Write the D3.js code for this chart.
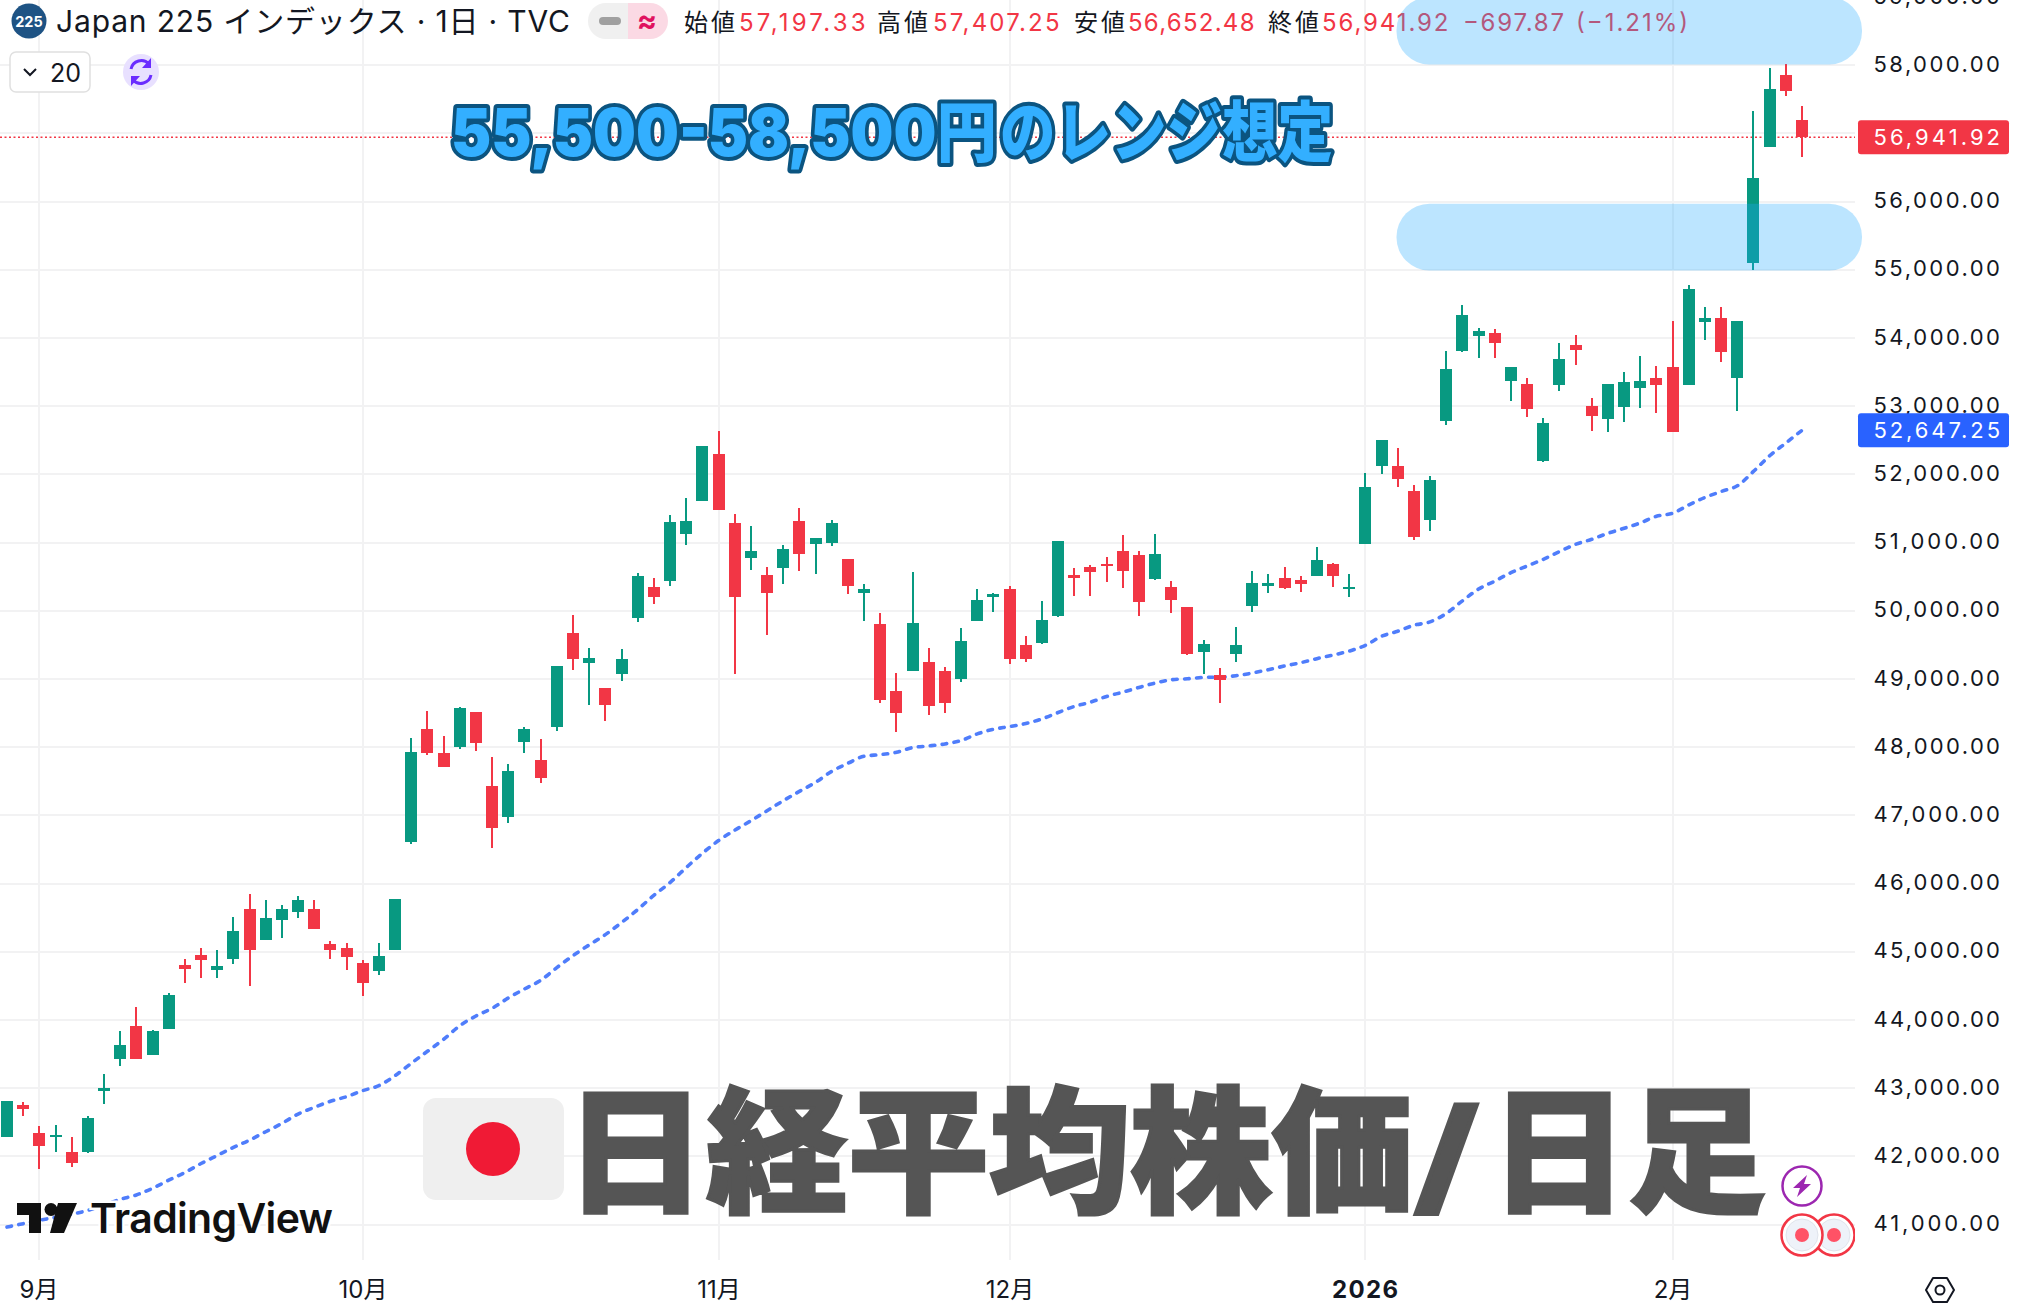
<!DOCTYPE html>
<html><head><meta charset="utf-8">
<style>html,body{margin:0;padding:0;background:#fff;overflow:hidden}svg{display:block}text{font-family:Inter,"Noto Sans CJK JP",sans-serif}</style>
<script src="https://cdn.jsdelivr.net/npm/d3@7/dist/d3.min.js"></script></head><body>
<script>
const opens=[42289,42760,42348,42289,42069,42069,42966,43436,43907,43495,43863,44804,44951,44730,44892,45627,45172,45466,45583,45627,45113,45054,44833,44716,45025,
46613,48275,47922,48010,48510,47436,46980,48083,47819,48304,49672,49230,48863,49069,49892,50348,50436,51127,51613,52304,51289,50775,50524,50627,51319,50980,50995,50760,50260,
49803,48818,49112,49245,49112,48995,49848,50200,50318,49495,49524,49921,50524,50642,50686,50877,50818,50465,50348,50053,49392,49054,49362,50068,50362,50480,50450,50509,50686,50318,
50980,52127,52127,51760,51333,52789,53804,54024,54069,53363,53333,52201,53304,53892,53010,52819,52995,53274,53421,53569,53304,54230,54289,53407,55103,56794,57853,57197.33];
const highs=[42819,42804,42451,42466,42289,42598,43216,43833,44186,43848,44392,44892,45054,45025,45510,45848,45760,45686,45819,45760,45157,45128,44878,45128,45775,
48142,48525,48172,48583,48510,47863,47760,48304,48127,49186,49936,49451,48863,49436,50554,50480,51407,51657,52422,52642,51422,51245,50642,50966,51510,51069,51333,50760,50392,
49965,49083,50568,49450,49171,49745,50318,50259,50362,49627,50142,51024,50627,50671,50789,51112,50877,51127,50436,50053,49568,49156,49759,50583,50539,50642,50509,50936,50700,50539,
52024,52510,52392,51848,51980,53804,54480,54142,54127,53569,53407,52833,53921,54039,53127,53319,53495,53730,53583,54245,54774,54451,54451,54245,57324,57956,58015,57407.25];
const lows=[42289,42598,41819,42069,41848,42054,42775,43333,43436,43495,43863,44539,44613,44613,44819,44495,45172,45201,45495,45333,44892,44730,44348,44657,45025,
46583,47892,47716,47980,47951,46524,46892,47922,47480,48245,49127,48613,48392,48966,49833,50098,50363,50966,51613,51480,49069,50598,49642,50392,50583,50539,50951,50245,49848,
48656,48230,49112,48480,48509,48950,49848,49980,49215,49245,49509,49906,50215,50215,50421,50333,49921,50450,49965,49348,49068,48642,49245,49980,50259,50318,50274,50509,50348,50200,
50980,52010,51819,51039,51172,52730,53789,53701,53701,53083,52848,52186,53230,53598,52642,52627,52774,52980,52907,52627,53304,53966,53642,52936,55000,56794,57544,56652.48];
const closes=[42819,42701,42157,42319,41907,42569,43010,43642,43436,43833,44363,44745,44877,44789,45304,45025,45495,45627,45760,45333,45025,44922,44539,44936,45775,
47936,47922,47716,48569,48069,46819,47657,48275,47554,49186,49289,49304,48613,49289,50510,50201,51304,51319,52422,51480,50201,50878,50260,50907,50833,51069,51289,50363,50319,
48686,48509,49818,48598,48642,49553,50156,50245,49289,49289,49862,51024,50480,50568,50656,50583,50127,50833,50156,49362,49509,48980,49495,50406,50406,50333,50392,50745,50509,50348,
51819,52510,51936,51083,51921,53539,54333,54098,53921,53569,52966,52760,53686,53819,52863,53319,53348,53363,53304,52627,54716,54289,53789,54245,56353,57647,57618,56941.92];
const ma20=[40965,41015,41064,41108,41152,41211,41289,41372,41436,41534,41652,41765,41897,42015,42132,42240,42363,42485,42622,42720,42809,42877,42966,43039,43186,
43366,43542,43718,43918,44060,44173,44324,44456,44583,44769,44945,45102,45253,45429,45620,45830,46016,46236,46446,46632,46784,46922,47069,47216,47353,47485,47647,47765,47868,
47892,47926,47995,48019,48049,48098,48196,48264,48303,48348,48416,48509,48598,48661,48745,48808,48877,48941,48990,49004,49024,49029,49049,49088,49137,49191,49240,49299,49352,49410,
49495,49627,49701,49789,49838,49961,50147,50319,50436,50559,50657,50755,50868,50975,51049,51137,51211,51289,51387,51431,51554,51662,51750,51833,52044,52274,52461,52647.25];
const priceTicks=[41000,42000,43000,44000,45000,46000,47000,48000,49000,50000,51000,52000,53000,54000,55000,56000,57000,58000,59000];
const monthIdx=[2,22,44,62,84,103];
const monthLabels=["9月","10月","11月","12月","2026","2月"];
const lastClose=56941.92, lastMA=52647.25;
const ohlcLabels=["始値","高値","安値","終値"];
const ohlcValues=["57,197.33","57,407.25","56,652.48","56,941.92"];
const rangeLow=[54990,55970], rangeHigh=[58010,59000];

const W=2018,H=1314,plotR=1855,plotB=1260;
const UP="#089981",DOWN="#F23645";
const svg=d3.select("body").append("svg").attr("width",W).attr("height",H).attr("viewBox",`0 0 ${W} ${H}`);
const y=d3.scaleLinear().domain([41000,58000]).range([1224.7,65.2]);
const x=d3.scaleLinear().domain([0,111]).range([7,1802]);
const px=i=>Math.round(x(i));
const fmt=d3.format(",.2f");
const idx=d3.range(opens.length);

svg.append("defs").append("clipPath").attr("id","plot").append("rect").attr("width",plotR).attr("height",plotB+40);
const g=svg.append("g");
// grid
g.selectAll(".h").data(priceTicks.filter(t=>t<59000)).join("line").attr("x1",0).attr("x2",plotR)
 .attr("y1",d=>Math.round(y(d))).attr("y2",d=>Math.round(y(d))).attr("stroke","#F2F2F3").attr("stroke-width",2);
g.selectAll(".v").data(monthIdx).join("line").attr("y1",0).attr("y2",plotB)
 .attr("x1",d=>px(d)).attr("x2",d=>px(d)).attr("stroke","#F2F2F3").attr("stroke-width",2);
// price dotted line
g.append("line").attr("x1",0).attr("x2",plotR).attr("y1",y(lastClose)).attr("y2",y(lastClose))
 .attr("stroke",DOWN).attr("stroke-width",1.5).attr("stroke-dasharray","2 2.5");
// MA20
const line=d3.line().x((d,i)=>x(i)).y(d=>y(d)).curve(d3.curveMonotoneX);
g.append("path").attr("d",line(ma20)).attr("fill","none").attr("stroke","#4F7DFB").attr("stroke-width",3.6)
 .attr("stroke-dasharray","4.6 7.4").attr("stroke-linecap","round");
// candles
const cg=g.append("g").attr("shape-rendering","crispEdges");
cg.selectAll(".wick").data(idx).join("rect").attr("x",i=>px(i)-1).attr("width",2)
 .attr("y",i=>y(highs[i])).attr("height",i=>Math.max(1,y(lows[i])-y(highs[i])))
 .attr("fill",i=>closes[i]>=opens[i]?UP:DOWN);
cg.selectAll(".body").data(idx).join("rect").attr("x",i=>px(i)-6).attr("width",12)
 .attr("y",i=>Math.round(y(Math.max(opens[i],closes[i]))))
 .attr("height",i=>Math.max(2,Math.round(y(Math.min(opens[i],closes[i])))-Math.round(y(Math.max(opens[i],closes[i])))))
 .attr("fill",i=>closes[i]>=opens[i]?UP:DOWN);

// price axis
const AXF=22;
const ax=svg.append("g");
ax.selectAll("text").data(priceTicks).join("text").attr("x",1873.5).attr("y",d=>y(d)+6.5).attr("font-size",AXF)
 .attr("fill","#131722").attr("textLength",126.5).attr("lengthAdjust","spacing").text(d=>fmt(d));
// time axis
svg.append("g").selectAll("text").data(monthIdx).join("text").attr("x",d=>px(d)).attr("y",1298)
 .attr("text-anchor","middle").attr("font-size",24).attr("fill","#131722")
 .attr("font-weight",(d,i)=>monthLabels[i]==="2026"?700:400)
 .attr("textLength",(d,i)=>monthLabels[i]==="2026"?66:null).text((d,i)=>monthLabels[i]);
// last price labels
[[lastClose,DOWN,fmt(lastClose)],[lastMA,"#2962FF",fmt(lastMA)]].forEach(([v,c,t])=>{
  svg.append("rect").attr("x",1858).attr("y",y(v)-17).attr("width",151).attr("height",34).attr("rx",3).attr("fill",c);
  svg.append("text").attr("x",1873.5).attr("y",y(v)+7.5).attr("font-size",AXF).attr("fill","#fff").attr("textLength",126.5).attr("lengthAdjust","spacing").text(t);
});
// settings hex
const hex=svg.append("g").attr("transform","translate(1940,1290)");
hex.append("path").attr("d","M-14,0L-7,-12H7L14,0L7,12H-7Z").attr("fill","none").attr("stroke","#131722").attr("stroke-width",2).attr("stroke-linejoin","round");
hex.append("circle").attr("r",4.5).attr("fill","none").attr("stroke","#131722").attr("stroke-width",2);

// header
const hd=svg.append("g");
hd.append("circle").attr("cx",29).attr("cy",21).attr("r",17.5).attr("fill","#1E5384");
hd.append("text").attr("x",29).attr("y",26.5).attr("text-anchor","middle").attr("font-size",14.5).attr("font-weight",700).attr("fill","#fff").text("225");
hd.append("text").attr("x",56).attr("y",32).attr("font-size",30).attr("fill","#131722").attr("textLength",514).attr("lengthAdjust","spacing").text("Japan 225 インデックス · 1日 · TVC");
hd.append("path").attr("d","M628,3H606a18,18 0 0 0 0,36H628Z").attr("fill","#F0F0F0");
hd.append("path").attr("d","M628,3H650a18,18 0 0 1 0,36H628Z").attr("fill","#FBD9E4");
hd.append("rect").attr("x",599).attr("y",17).attr("width",22).attr("height",8).attr("rx",4).attr("fill","#A0A0A0");
hd.append("text").attr("x",647).attr("y",31).attr("text-anchor","middle").attr("font-size",30).attr("font-weight",700).attr("fill","#E0115F").text("≈");
const lblX=[684,877,1074,1268],valX=[739,933,1128,1322];
ohlcLabels.forEach((l,i)=>{
  hd.append("text").attr("x",lblX[i]).attr("y",31).attr("font-size",24).attr("fill","#131722").attr("textLength",51).attr("lengthAdjust","spacing").text(l);
  hd.append("text").attr("x",valX[i]).attr("y",31).attr("font-size",24).attr("fill",DOWN).attr("textLength",126.5).attr("lengthAdjust","spacing").text(ohlcValues[i]);
});
hd.append("text").attr("x",1463).attr("y",31).attr("font-size",24).attr("fill",DOWN).attr("textLength",101).attr("lengthAdjust","spacing").text("−697.87");
hd.append("text").attr("x",1576).attr("y",31).attr("font-size",24).attr("fill",DOWN).attr("textLength",112).attr("lengthAdjust","spacing").text("(−1.21%)");
hd.append("rect").attr("x",10).attr("y",52).attr("width",80).attr("height",40).attr("rx",6).attr("fill","#fff").attr("stroke","#E0E0E0").attr("stroke-width",1.5);
hd.append("path").attr("d","M24,69L30,75L36,69").attr("fill","none").attr("stroke","#131722").attr("stroke-width",2);
hd.append("text").attr("x",50).attr("y",82).attr("font-size",25).attr("fill","#131722").text("20");
hd.append("circle").attr("cx",141).attr("cy",72).attr("r",18).attr("fill","#E8E0FF");
hd.append("path").attr("d","M131,69a10.5,10.5 0 0 1 18,-5M151,75a10.5,10.5 0 0 1 -18,5").attr("fill","none").attr("stroke","#6A2CFF").attr("stroke-width",3);
hd.append("path").attr("d","M151,58V68H142ZM131,86V76H140Z").attr("fill","#6A2CFF");

// range boxes
[rangeLow,rangeHigh].forEach(r=>{
  const top=y(r[1]),bot=y(r[0]);
  svg.append("rect").attr("x",1396.5).attr("width",465.5).attr("y",top).attr("height",bot-top).attr("rx",33).attr("ry",33).attr("fill","rgba(33,170,255,0.3)");
});
// annotation
[["55,500-58,500円",451,546],["のレンジ想定",1000,333]].forEach(([t,tx,tl])=>{
  svg.append("text").attr("x",tx).attr("y",156).attr("font-size",66).attr("font-weight",900).attr("fill","#33AFFF")
   .attr("stroke","#0B5480").attr("stroke-width",8).attr("stroke-linejoin","round").attr("paint-order","stroke")
   .attr("textLength",tl).attr("lengthAdjust","spacingAndGlyphs").text(t);
});
// flag + title
svg.append("rect").attr("x",423).attr("y",1098).attr("width",141).attr("height",102).attr("rx",13).attr("fill","#EFEFEF");
svg.append("circle").attr("cx",493).attr("cy",1149).attr("r",27).attr("fill","#F01A35");
[["日経平均株価",565,848,136,1202],["/",1413,70,111,1194],["日足",1490,276,136,1202]].forEach(([t,tx,tl,fs,by])=>{
  svg.append("text").attr("x",tx).attr("y",by).attr("font-size",fs).attr("font-weight",900).attr("fill","#555")
   .attr("stroke","#555").attr("stroke-width",3).attr("stroke-linejoin","miter")
   .attr("textLength",tl).attr("lengthAdjust","spacingAndGlyphs").style("font-family",'"Noto Sans CJK JP"').text(t);
});
// logo
const lg=svg.append("g").attr("fill","#111");
lg.append("path").attr("d","M17,1203H41V1233H29V1215H17Z");
lg.append("circle").attr("cx",51).attr("cy",1209.5).attr("r",6.5);
lg.append("path").attr("d","M58,1203H77L64,1233H50Z");
lg.append("text").attr("x",90).attr("y",1233).attr("font-size",41).attr("font-weight",600).attr("fill","#111").attr("stroke","#fff").attr("stroke-width",5).attr("paint-order","stroke")
 .attr("textLength",243).attr("lengthAdjust","spacing").text("TradingView");
// event icons
const ic=svg.append("g").attr("clip-path","url(#plot)");
ic.append("circle").attr("cx",1802).attr("cy",1186).attr("r",19.5).attr("fill","#fff").attr("stroke","#9C27B0").attr("stroke-width",2.5);
ic.append("path").attr("d","M1807,1175L1793,1188H1800L1797,1197L1811,1184H1804Z").attr("fill","#9C27B0");
[1834,1802].forEach(cx=>{
  ic.append("circle").attr("cx",cx).attr("cy",1235).attr("r",20.5).attr("fill","#fff").attr("stroke",DOWN).attr("stroke-width",2.5);
  ic.append("circle").attr("cx",cx).attr("cy",1235).attr("r",16).attr("fill","#EEF2F9").attr("stroke","#E0E4EC");
  ic.append("circle").attr("cx",cx).attr("cy",1235).attr("r",7).attr("fill","#FF5266");
});
</script></body></html>
